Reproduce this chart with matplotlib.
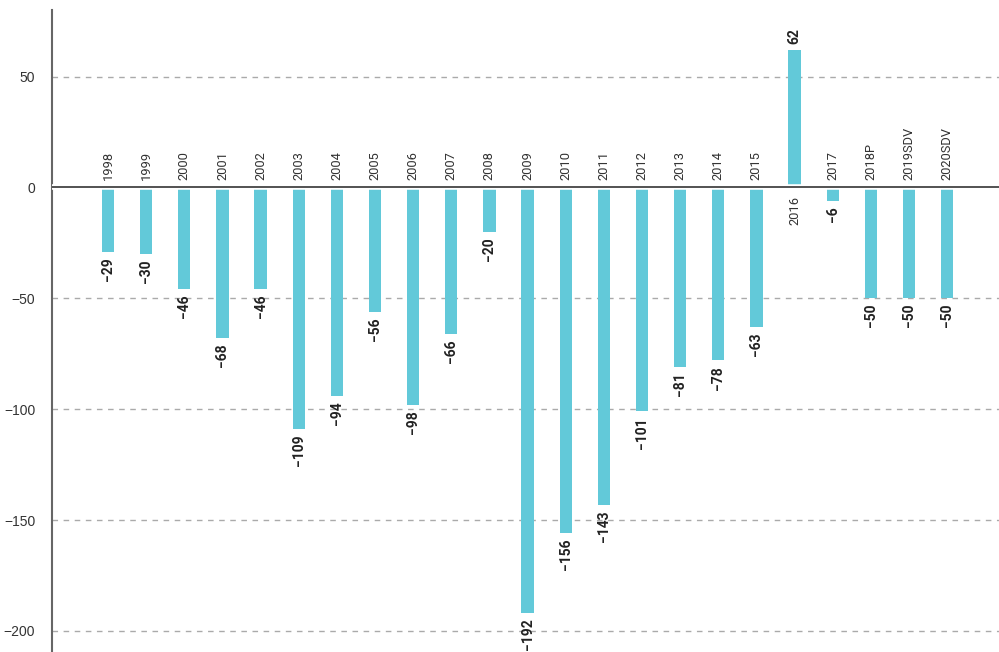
import matplotlib
matplotlib.use('Agg')
import matplotlib.pyplot as plt

# data
years = ['1998', '1999', '2000', '2001', '2002', '2003', '2004', '2005', '2006', '2007',
         '2008', '2009', '2010', '2011', '2012', '2013', '2014', '2015', '2016', '2017',
         '2018P', '2019SDV', '2020SDV']
values = [-29, -30, -46, -68, -46, -109, -94, -56, -98, -66,
          -20, -192, -156, -143, -101, -81, -78, -63, 62, -6,
          -50, -50, -50]
yticks = [-200, -150, -100, -50, 0, 50]

bar_color = '#62c9d9'

plt.rcParams['font.family'] = ['Roboto', 'DejaVu Sans']

fig = plt.figure(figsize=(9.99, 6.52), dpi=100)
ax = fig.add_axes([0.052, 0.0, 0.948, 0.9847])

x = list(range(len(years)))
ax.bar(x, values, width=0.32, color=bar_color, zorder=3)

for i, (yr, v) in enumerate(zip(years, values)):
    if v < 0:
        ax.annotate(yr, (i, 0), xytext=(0, 5), textcoords='offset points',
                    rotation=90, ha='center', va='bottom', fontsize=9.3, color='#333333')
        ax.annotate(str(v).replace('-', '\u2212'), (i, v), xytext=(0, -4), textcoords='offset points',
                    rotation=90, ha='center', va='top', fontsize=10, fontweight='bold',
                    color='#222222', annotation_clip=False)
    else:
        ax.annotate(yr, (i, 0), xytext=(0, -6), textcoords='offset points',
                    rotation=90, ha='center', va='top', fontsize=9.3, color='#333333')
        ax.annotate(str(v), (i, v), xytext=(0, 4), textcoords='offset points',
                    rotation=90, ha='center', va='bottom', fontsize=10, fontweight='bold',
                    color='#222222')

ax.set_xlim(-1.47, 23.36)
ax.set_ylim(-209.5, 80)
ax.set_yticks(yticks)
ax.set_yticklabels([str(t).replace('-', '\u2212') for t in yticks], fontsize=10,
                   color='#333333', fontfamily=['Liberation Sans', 'DejaVu Sans'])
ax.tick_params(axis='y', length=0, pad=12)
ax.set_xticks([])

for t in yticks:
    if t != 0:
        ax.axhline(t, color='#aaaaaa', lw=1, ls=(0, (4, 4)), zorder=1)
# small white gap between the bars and the zero line
ax.axhline(0, color='white', lw=4, zorder=3.5)
ax.axhline(0, color='#444444', lw=1.3, zorder=4)

for s in ['top', 'right', 'bottom']:
    ax.spines[s].set_visible(False)
ax.spines['left'].set_color('#666666')
ax.spines['left'].set_linewidth(1.5)

fig.savefig('out.png', dpi=100)
